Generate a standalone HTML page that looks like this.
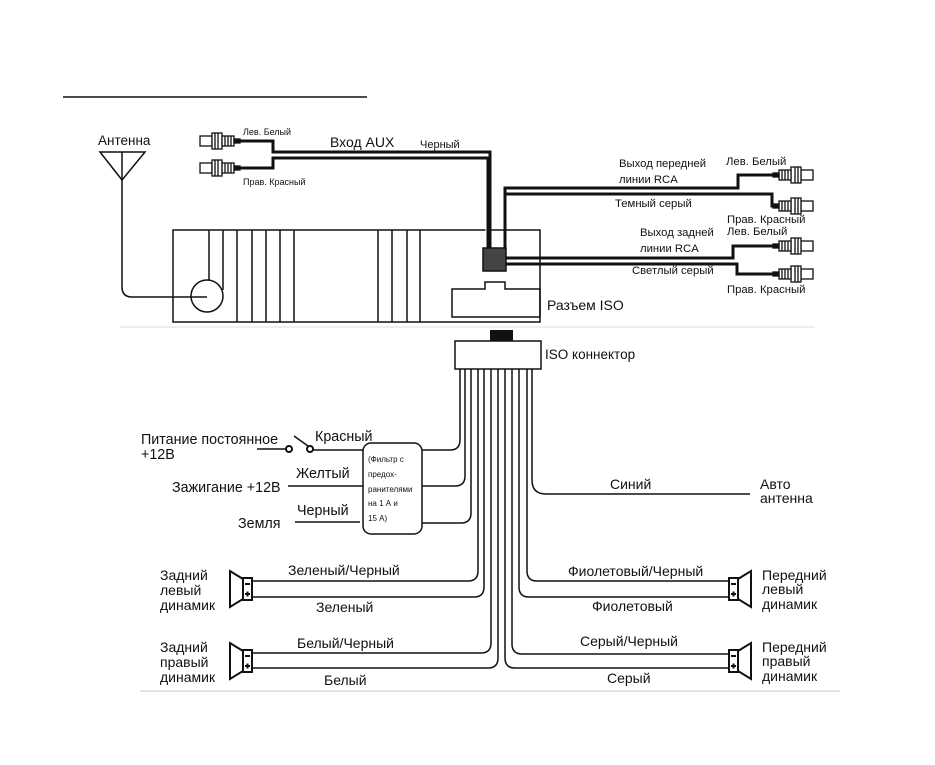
<!DOCTYPE html>
<html><head><meta charset="utf-8"><style>
html,body{margin:0;padding:0;background:#fff}
svg{display:block}
text{font-family:"Liberation Sans",sans-serif;fill:#111}
</style></head><body>
<svg width="935" height="765" viewBox="0 0 935 765" xmlns="http://www.w3.org/2000/svg">
<defs>
<g id="plugL" fill="#fff" stroke="#111" stroke-width="1.3">
<rect x="0" y="-5" width="12" height="10"/>
<rect x="12" y="-8" width="10" height="16"/>
<line x1="15" y1="-8" x2="15" y2="8"/><line x1="18" y1="-8" x2="18" y2="8"/>
<rect x="22" y="-5" width="12" height="10"/>
<line x1="25" y1="-5" x2="25" y2="5"/><line x1="28" y1="-5" x2="28" y2="5"/><line x1="31" y1="-5" x2="31" y2="5"/>
<rect x="34" y="-2" width="6" height="4" fill="#111"/>
</g>
<g id="spk" fill="#fff" stroke="#111" stroke-width="2">
<polygon points="0,8 -13,0 -13,36 0,28"/>
<rect x="0" y="7" width="9" height="22"/>
<line x1="2" y1="13" x2="7" y2="13"/><line x1="2" y1="23" x2="7" y2="23"/><line x1="4.5" y1="20.5" x2="4.5" y2="25.5"/>
</g>
</defs>
<line x1="63" y1="97" x2="367" y2="97" stroke="#111" stroke-width="1.5"/>
<!-- antenna -->
<text x="98" y="145" font-size="13.5">Антенна</text>
<polygon points="100,152 145,152 122,180" fill="none" stroke="#111" stroke-width="1.5"/>
<path d="M122 152 V287 Q122 297 132 297 H207" fill="none" stroke="#111" stroke-width="1.5"/>
<!-- head unit -->
<g stroke="#111" stroke-width="1.5" fill="none">
<rect x="173" y="230" width="367" height="92"/>
<circle cx="207" cy="296" r="16"/>
<line x1="209" y1="230" x2="209" y2="280"/><line x1="223" y1="230" x2="223" y2="290"/>
<line x1="237" y1="230" x2="237" y2="322"/><line x1="252" y1="230" x2="252" y2="322"/>
<line x1="266" y1="230" x2="266" y2="322"/><line x1="280" y1="230" x2="280" y2="322"/>
<line x1="294" y1="230" x2="294" y2="322"/>
<line x1="378" y1="230" x2="378" y2="322"/><line x1="392" y1="230" x2="392" y2="322"/>
<line x1="407" y1="230" x2="407" y2="322"/><line x1="420" y1="230" x2="420" y2="322"/>
<path d="M452 289 H485 V282 H505 V289 H540 V317 H452 Z"/>
</g>
<line x1="120" y1="327" x2="815" y2="327" stroke="#ddd" stroke-width="1"/>
<text x="547" y="310" font-size="14">Разъем ISO</text>
<!-- AUX -->
<use href="#plugL" x="200" y="141"/>
<use href="#plugL" x="200" y="168"/>
<g fill="none" stroke="#111" stroke-width="3">
<path d="M240 141 H273 V152 H490 V250"/>
<path d="M240 168 H273 V158 H488 V250"/>
<path d="M505 250 V188 H738 V175 H775"/>
<path d="M505 194 H772 V206 H775"/>
<path d="M506 258 H733 V246 H775"/>
<path d="M506 264 H737 V274 H775"/>
</g>
<line x1="486" y1="160" x2="486" y2="250" stroke="#fff" stroke-width="1"/>
<rect x="483" y="248" width="23" height="23" fill="#444" stroke="#111" stroke-width="1.5"/>
<g transform="translate(813,0) scale(-1,1)">
<use href="#plugL" x="0" y="175"/><use href="#plugL" x="0" y="206"/>
<use href="#plugL" x="0" y="246"/><use href="#plugL" x="0" y="274"/>
</g>
<text x="243" y="135" font-size="9">Лев. Белый</text>
<text x="243" y="185" font-size="9">Прав. Красный</text>
<text x="330" y="147" font-size="14">Вход AUX</text>
<text x="420" y="148" font-size="11">Черный</text>
<text x="619" y="167" font-size="11.3">Выход передней</text>
<text x="619" y="183" font-size="11.3">линии RCA</text>
<text x="615" y="207" font-size="11.3">Темный серый</text>
<text x="726" y="165" font-size="11.3">Лев. Белый</text>
<text x="727" y="223" font-size="11.3">Прав. Красный</text>
<text x="640" y="236" font-size="11.3">Выход задней</text>
<text x="640" y="252" font-size="11.3">линии RCA</text>
<text x="727" y="235" font-size="11.3">Лев. Белый</text>
<text x="632" y="274" font-size="11.3">Светлый серый</text>
<text x="727" y="293" font-size="11.3">Прав. Красный</text>
<!-- ISO connector -->
<rect x="490" y="330" width="23" height="12" fill="#111"/>
<rect x="455" y="341" width="86" height="28" fill="#fff" stroke="#111" stroke-width="1.5"/>
<text x="545" y="359" font-size="13.5">ISO коннектор</text>
<g fill="none" stroke="#111" stroke-width="1.5">
<path d="M460 369 V440 Q460 450 450 450 H422"/>
<path d="M465 369 V476 Q465 486 455 486 H422"/>
<path d="M471 369 V513 Q471 523 461 523 H422"/>
<path d="M478 369 V571 Q478 581 468 581 H253"/>
<path d="M484 369 V587 Q484 597 474 597 H253"/>
<path d="M491 369 V643 Q491 653 481 653 H253"/>
<path d="M498 369 V658 Q498 668 488 668 H253"/>
<path d="M505 369 V658 Q505 668 515 668 H728"/>
<path d="M512 369 V644 Q512 654 522 654 H728"/>
<path d="M519 369 V587 Q519 597 529 597 H728"/>
<path d="M527 369 V571 Q527 581 537 581 H728"/>
<path d="M532 369 V480 Q532 494 546 494 H750"/>
<!-- power -->
<line x1="257" y1="449" x2="286" y2="449"/>
<circle cx="289" cy="449" r="3" stroke-width="2"/>
<circle cx="310" cy="449" r="3" stroke-width="2"/>
<line x1="308" y1="446" x2="294" y2="436"/>
<line x1="313" y1="450" x2="363" y2="450"/>
<line x1="288" y1="486" x2="363" y2="486"/>
<line x1="295" y1="522" x2="360" y2="522"/>
<rect x="363" y="443" width="59" height="91" rx="8"/>
</g>
<g font-size="8">
<text x="368" y="462">(Фильтр с</text>
<text x="368" y="477">предох-</text>
<text x="368" y="492">ранителями</text>
<text x="368" y="506">на 1 А и</text>
<text x="368" y="521">15 А)</text>
</g>
<g font-size="14.3">
<text x="141" y="444">Питание постоянное</text>
<text x="141" y="459">+12В</text>
<text x="315" y="441">Красный</text>
<text x="296" y="478">Желтый</text>
<text x="172" y="492">Зажигание +12В</text>
<text x="297" y="515">Черный</text>
<text x="238" y="528">Земля</text>
</g>
<!-- speakers -->
<use href="#spk" x="243" y="571"/>
<use href="#spk" x="243" y="643"/>
<g transform="translate(981,0) scale(-1,1)">
<use href="#spk" x="243" y="571"/>
<use href="#spk" x="243" y="643"/>
</g>
<g font-size="14">
<text x="160" y="580">Задний</text><text x="160" y="595">левый</text><text x="160" y="610">динамик</text>
<text x="160" y="652">Задний</text><text x="160" y="667">правый</text><text x="160" y="682">динамик</text>
<text x="288" y="575">Зеленый/Черный</text><text x="316" y="612">Зеленый</text>
<text x="297" y="648">Белый/Черный</text><text x="324" y="685">Белый</text>
<text x="610" y="489">Синий</text>
<text x="760" y="489">Авто</text><text x="760" y="503">антенна</text>
<text x="568" y="576">Фиолетовый/Черный</text><text x="592" y="611">Фиолетовый</text>
<text x="580" y="646">Серый/Черный</text><text x="607" y="683">Серый</text>
<text x="762" y="580">Передний</text><text x="762" y="594">левый</text><text x="762" y="609">динамик</text>
<text x="762" y="652">Передний</text><text x="762" y="666">правый</text><text x="762" y="681">динамик</text>
</g>
<line x1="140" y1="691" x2="840" y2="691" stroke="#e4e4e4" stroke-width="2"/>
</svg>
</body></html>
